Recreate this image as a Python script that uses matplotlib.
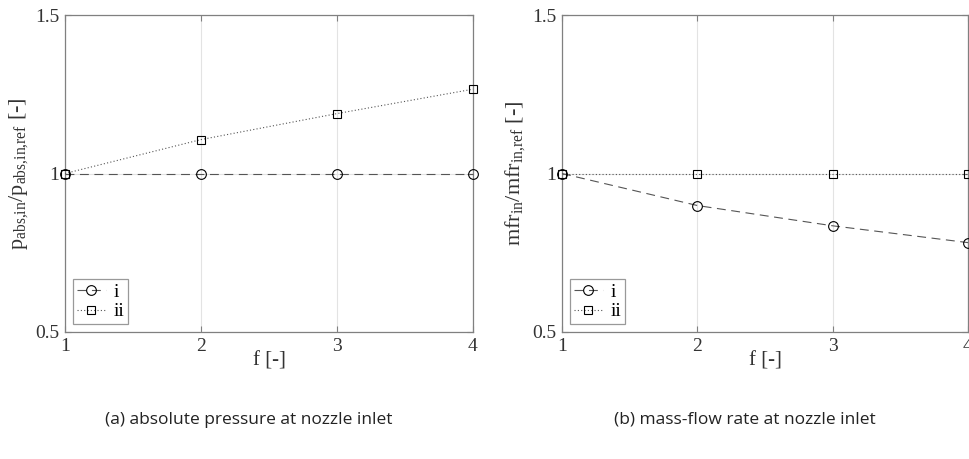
import numpy as np
import matplotlib.pyplot as plt

# =============================
# DATA
# =============================
f_vals = [1, 2, 3, 4]

p_i  = [1.0, 1.0, 1.0, 1.0]
p_ii = [1.0, 1.107, 1.189, 1.266]

m_i  = [1.0, 0.899, 0.835, 0.782]
m_ii = [1.0, 1.0, 1.0, 1.0]

series_labels = ["i", "ii"]
ylabels = [r"p$_{\mathrm{abs{,}in}}$/p$_{\mathrm{abs{,}in{,}ref}}$ [-]",
           r"mfr$_{\mathrm{in}}$/mfr$_{\mathrm{in{,}ref}}$ [-]"]
captions = ["(a) absolute pressure at nozzle inlet",
            "(b) mass-flow rate at nozzle inlet"]

# =============================
# STYLE
# =============================
plt.rcParams['font.family'] = ['Liberation Serif', 'DejaVu Serif']
plt.rcParams['mathtext.fontset'] = 'custom'
plt.rcParams['mathtext.rm'] = 'Liberation Serif'
plt.rcParams['mathtext.it'] = 'Liberation Serif:italic'

line_col = "#555555"
ax_col = "#808080"
txt_col = "#333333"

fig = plt.figure(figsize=(9.7, 4.59), dpi=100)

# axes positions in pixels (left, top, right, bottom)
W, H = 970, 459
boxes = [(65, 15, 473, 332), (562, 15, 968, 332)]
data = [(p_i, p_ii), (m_i, m_ii)]

for k, (x0, y0, x1, y1) in enumerate(boxes):
    ax = fig.add_axes([x0 / W, 1 - y1 / H, (x1 - x0) / W, (y1 - y0) / H])
    s_i, s_ii = data[k]
    ax.plot(f_vals, s_i, linestyle=(0, (8, 5)), color=line_col, lw=0.8,
            marker="o", ms=7, mfc="none", mec="black", mew=0.8,
            label=series_labels[0], clip_on=False, zorder=3)
    ax.plot(f_vals, s_ii, linestyle=(0, (1, 2)), color=line_col, lw=0.8,
            marker="s", ms=6, mfc="none", mec="black", mew=0.8,
            label=series_labels[1], clip_on=False, zorder=3)

    ax.set_xlim(1, 4)
    ax.set_ylim(0.5, 1.5)
    ax.set_xticks([1, 2, 3, 4])
    ax.set_yticks([0.5, 1, 1.5])
    ax.set_yticklabels(["0.5", "1", "1.5"])
    ax.grid(True, color="#e3e3e3", lw=0.8)
    ax.set_axisbelow(True)
    ax.tick_params(direction="in", length=4, colors=ax_col, labelcolor=txt_col,
                   labelsize=14, top=True, right=True, pad=4)
    for sp in ax.spines.values():
        sp.set_color(ax_col)
        sp.set_linewidth(0.9)

    ax.set_xlabel("f [-]", fontsize=15, color=txt_col, labelpad=-2)
    ax.set_ylabel(ylabels[k], fontsize=16, color=txt_col, labelpad=4)

    leg = ax.legend(loc="lower left", fontsize=14, frameon=True, fancybox=False,
                    handlelength=1.5, borderpad=0.2, labelspacing=0.1,
                    handletextpad=0.4, borderaxespad=0.4)
    leg.get_frame().set_edgecolor(ax_col)
    leg.get_frame().set_linewidth(0.9)

    fig.text(((x0 + x1) / 2 - 20) / W, 1 - 420 / H, captions[k],
             family="Open Sans", fontsize=12.5, color="#222222",
             ha="center", va="center")

fig.savefig("out.png", dpi=100)
